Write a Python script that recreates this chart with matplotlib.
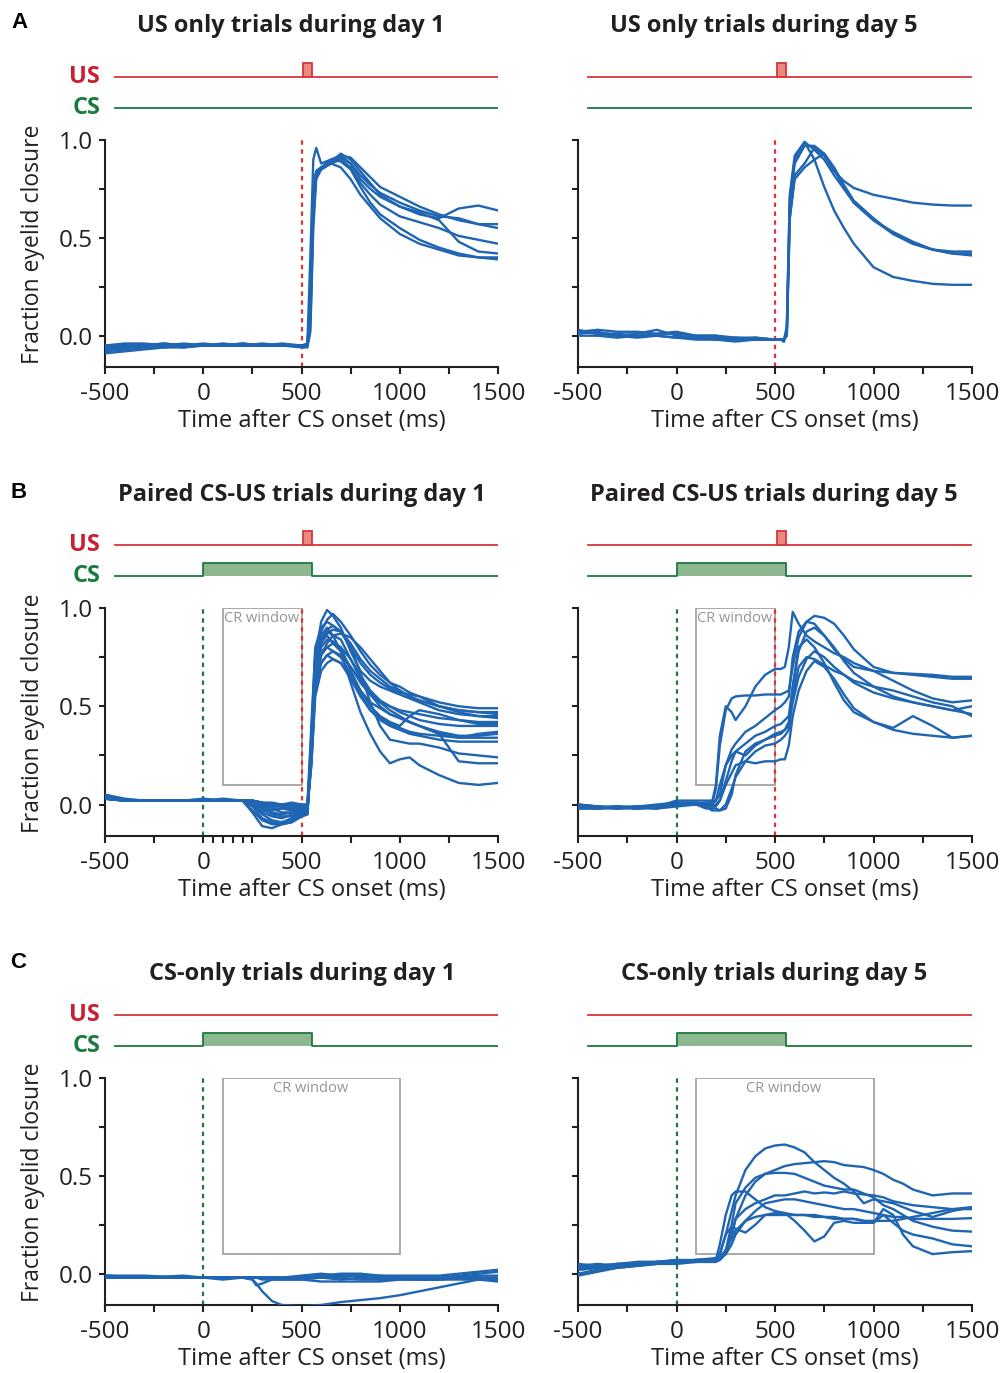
import matplotlib
matplotlib.use('Agg')
import matplotlib.pyplot as plt
from matplotlib.patches import Rectangle

plt.rcParams['font.family'] = ['Open Sans', 'DejaVu Sans']

# ---------------- data ----------------
titles = [["US only trials during day 1", "US only trials during day 5"],
          ["Paired CS-US trials during day 1", "Paired CS-US trials during day 5"],
          ["CS-only trials during day 1", "CS-only trials during day 5"]]
panel_letters = ["A", "B", "C"]
x_ticks = [-500, 0, 500, 1000, 1500]
x_minor = [-250, 250, 750, 1250]
y_ticks = [0.0, 0.5, 1.0]
y_tick_labels = ["0.0", "0.5", "1.0"]
y_minor = [0.25, 0.75]
xlabel = "Time after CS onset (ms)"
ylabel = "Fraction eyelid closure"

# stimulus timing (ms) per row: US pulse (on, off) or None; CS (on, off) or None
us_pulse = [(510, 555), (510, 555), None]
cs_pulse = [None, (0, 555), (0, 555)]
cr_window = [None, (100, 500, 0.1, 1.0), (100, 1000, 0.1, 1.0)]

# A left: US only day 1
t_a1 = [-500, -400, -300, -200, -100, 0, 100, 200, 300, 400, 500, 530, 545, 560, 575, 600,
        650, 700, 750, 800, 850, 900, 1000, 1100, 1200, 1300, 1400, 1500]
a1_traces = [
    [-0.05, -0.04, -0.04, -0.05, -0.04, -0.05, -0.05, -0.04, -0.05, -0.04, -0.05, -0.05, 0.2, 0.72, 0.84, 0.86, 0.89, 0.93, 0.9, 0.84, 0.78, 0.72, 0.66, 0.62, 0.6, 0.65, 0.665, 0.64],
    [-0.06, -0.05, -0.05, -0.04, -0.05, -0.05, -0.04, -0.05, -0.05, -0.05, -0.05, -0.05, 0.1, 0.65, 0.84, 0.86, 0.9, 0.92, 0.91, 0.86, 0.81, 0.76, 0.71, 0.66, 0.62, 0.59, 0.57, 0.57],
    [-0.07, -0.06, -0.05, -0.05, -0.05, -0.04, -0.05, -0.05, -0.04, -0.05, -0.05, -0.05, 0.15, 0.7, 0.83, 0.85, 0.88, 0.91, 0.88, 0.82, 0.77, 0.73, 0.68, 0.64, 0.61, 0.6, 0.57, 0.55],
    [-0.08, -0.07, -0.06, -0.06, -0.05, -0.05, -0.05, -0.05, -0.05, -0.05, -0.06, -0.06, 0.02, 0.55, 0.8, 0.85, 0.88, 0.9, 0.86, 0.78, 0.72, 0.67, 0.61, 0.58, 0.55, 0.51, 0.49, 0.47],
    [-0.09, -0.08, -0.07, -0.06, -0.06, -0.05, -0.05, -0.05, -0.05, -0.05, -0.05, -0.05, 0.05, 0.6, 0.82, 0.85, 0.89, 0.92, 0.88, 0.8, 0.75, 0.71, 0.66, 0.63, 0.59, 0.48, 0.43, 0.42],
    [-0.06, -0.06, -0.05, -0.05, -0.06, -0.05, -0.05, -0.05, -0.05, -0.05, -0.05, -0.05, 0.18, 0.75, 0.84, 0.86, 0.88, 0.86, 0.8, 0.72, 0.66, 0.6, 0.52, 0.47, 0.44, 0.41, 0.4, 0.39],
    [-0.05, -0.05, -0.05, -0.04, -0.05, -0.05, -0.05, -0.04, -0.05, -0.05, -0.05, -0.04, 0.4, 0.9, 0.96, 0.88, 0.9, 0.89, 0.85, 0.76, 0.68, 0.62, 0.55, 0.49, 0.45, 0.42, 0.4, 0.4],
]

# A right: US only day 5
t_a5 = [-500, -400, -300, -200, -100, 0, 100, 200, 300, 400, 500, 530, 545, 560, 575, 600,
        650, 700, 750, 800, 850, 900, 1000, 1100, 1200, 1300, 1400, 1500]
a5_traces = [
    [0.02, 0.03, 0.02, 0.02, 0.01, 0.01, 0.0, 0.0, -0.01, -0.01, -0.02, -0.02, -0.02, 0.0, 0.6, 0.82, 0.88, 0.96, 0.92, 0.84, 0.79, 0.755, 0.72, 0.7, 0.68, 0.67, 0.665, 0.665],
    [0.03, 0.01, 0.01, 0.0, 0.0, -0.01, -0.01, -0.01, -0.02, -0.01, -0.02, -0.02, -0.03, 0.05, 0.7, 0.9, 0.99, 0.95, 0.9, 0.82, 0.75, 0.68, 0.59, 0.53, 0.48, 0.44, 0.43, 0.43],
    [0.01, 0.02, 0.0, 0.01, 0.03, 0.0, -0.01, -0.02, -0.01, -0.02, -0.02, -0.02, -0.02, 0.0, 0.65, 0.88, 0.97, 0.97, 0.93, 0.85, 0.76, 0.68, 0.59, 0.52, 0.47, 0.44, 0.42, 0.42],
    [0.0, 0.0, -0.01, 0.0, 0.01, 0.02, 0.0, 0.0, -0.02, -0.02, -0.02, -0.02, -0.03, 0.02, 0.6, 0.8, 0.86, 0.9, 0.93, 0.86, 0.77, 0.69, 0.6, 0.52, 0.47, 0.44, 0.42, 0.41],
    [0.02, 0.01, 0.0, -0.01, 0.0, -0.01, -0.02, -0.02, -0.03, -0.02, -0.02, -0.02, -0.02, 0.03, 0.72, 0.92, 0.99, 0.9, 0.76, 0.64, 0.55, 0.47, 0.35, 0.3, 0.28, 0.265, 0.26, 0.26],
]

# B left: paired day 1
t_b1 = [-500, -400, -300, -200, -100, 0, 100, 200, 250, 300, 350, 400, 450, 500, 530, 550, 570,
        600, 630, 660, 700, 750, 800, 850, 900, 950, 1000, 1050, 1100, 1200, 1300, 1400, 1500]
b1_traces = [
    [0.04, 0.02, 0.02, 0.02, 0.02, 0.02, 0.02, 0.02, -0.04, -0.11, -0.12, -0.1, -0.09, -0.06, -0.05, 0.3, 0.75, 0.93, 0.99, 0.96, 0.9, 0.78, 0.68, 0.63, 0.6, 0.58, 0.56, 0.54, 0.52, 0.48, 0.46, 0.45, 0.45],
    [0.05, 0.03, 0.02, 0.02, 0.02, 0.02, 0.02, 0.02, 0.0, -0.04, -0.06, -0.07, -0.05, -0.04, -0.03, 0.25, 0.7, 0.88, 0.94, 0.97, 0.93, 0.86, 0.78, 0.71, 0.66, 0.62, 0.6, 0.57, 0.55, 0.52, 0.5, 0.49, 0.49],
    [0.03, 0.02, 0.02, 0.02, 0.02, 0.02, 0.02, 0.02, 0.01, -0.02, -0.03, -0.02, -0.03, -0.02, -0.02, 0.35, 0.8, 0.9, 0.93, 0.91, 0.88, 0.8, 0.72, 0.66, 0.62, 0.59, 0.57, 0.56, 0.55, 0.5, 0.48, 0.47, 0.47],
    [0.04, 0.02, 0.02, 0.02, 0.02, 0.03, 0.02, 0.02, 0.02, 0.0, -0.01, -0.01, 0.0, 0.0, 0.0, 0.4, 0.78, 0.86, 0.89, 0.91, 0.88, 0.82, 0.74, 0.68, 0.64, 0.6, 0.58, 0.55, 0.53, 0.5, 0.48, 0.47, 0.46],
    [0.03, 0.02, 0.02, 0.02, 0.02, 0.02, 0.02, 0.02, -0.03, -0.08, -0.1, -0.1, -0.08, -0.05, -0.04, 0.3, 0.72, 0.86, 0.9, 0.86, 0.78, 0.62, 0.47, 0.36, 0.27, 0.21, 0.23, 0.24, 0.2, 0.15, 0.11, 0.1, 0.11],
    [0.04, 0.02, 0.02, 0.02, 0.02, 0.02, 0.02, 0.02, 0.01, -0.01, -0.02, -0.02, -0.01, -0.01, -0.01, 0.28, 0.68, 0.82, 0.87, 0.89, 0.88, 0.8, 0.67, 0.52, 0.4, 0.33, 0.32, 0.31, 0.31, 0.29, 0.26, 0.25, 0.24],
    [0.03, 0.02, 0.02, 0.02, 0.02, 0.02, 0.02, 0.02, 0.02, 0.0, -0.02, -0.04, -0.04, -0.03, -0.03, 0.32, 0.74, 0.84, 0.88, 0.86, 0.84, 0.74, 0.64, 0.56, 0.5, 0.46, 0.44, 0.42, 0.4, 0.36, 0.22, 0.21, 0.21],
    [0.05, 0.02, 0.02, 0.02, 0.02, 0.02, 0.03, 0.02, 0.02, 0.01, 0.0, 0.0, 0.01, 0.0, 0.0, 0.25, 0.6, 0.76, 0.82, 0.86, 0.87, 0.85, 0.8, 0.74, 0.68, 0.62, 0.58, 0.55, 0.53, 0.5, 0.47, 0.45, 0.44],
    [0.03, 0.02, 0.02, 0.02, 0.02, 0.02, 0.02, 0.02, 0.0, -0.05, -0.08, -0.09, -0.07, -0.04, -0.04, 0.3, 0.7, 0.83, 0.86, 0.82, 0.78, 0.7, 0.62, 0.56, 0.52, 0.5, 0.48, 0.47, 0.46, 0.44, 0.43, 0.42, 0.42],
    [0.04, 0.02, 0.02, 0.02, 0.02, 0.02, 0.02, 0.02, 0.01, -0.02, -0.05, -0.06, -0.06, -0.05, -0.04, 0.28, 0.68, 0.8, 0.84, 0.83, 0.8, 0.68, 0.58, 0.5, 0.45, 0.42, 0.4, 0.45, 0.48, 0.46, 0.43, 0.41, 0.41],
    [0.03, 0.02, 0.02, 0.02, 0.02, 0.02, 0.02, 0.02, 0.02, 0.01, 0.0, -0.01, -0.02, -0.03, -0.02, 0.22, 0.62, 0.76, 0.8, 0.82, 0.8, 0.74, 0.66, 0.58, 0.53, 0.5, 0.47, 0.45, 0.43, 0.41, 0.4, 0.4, 0.4],
    [0.05, 0.02, 0.02, 0.02, 0.02, 0.02, 0.02, 0.02, 0.0, -0.03, -0.04, -0.05, -0.04, -0.03, -0.03, 0.3, 0.68, 0.78, 0.8, 0.78, 0.75, 0.66, 0.58, 0.52, 0.49, 0.46, 0.44, 0.42, 0.4, 0.36, 0.34, 0.36, 0.37],
    [0.04, 0.02, 0.02, 0.02, 0.02, 0.02, 0.02, 0.02, 0.02, 0.0, -0.01, 0.0, -0.01, -0.02, -0.02, 0.2, 0.58, 0.72, 0.76, 0.78, 0.76, 0.7, 0.63, 0.57, 0.52, 0.48, 0.45, 0.42, 0.4, 0.37, 0.35, 0.35, 0.36],
    [0.03, 0.02, 0.02, 0.02, 0.02, 0.02, 0.02, 0.02, -0.01, -0.07, -0.09, -0.1, -0.09, -0.06, -0.05, 0.25, 0.62, 0.72, 0.76, 0.74, 0.72, 0.64, 0.55, 0.48, 0.44, 0.41, 0.39, 0.37, 0.36, 0.35, 0.34, 0.34, 0.34],
    [0.04, 0.02, 0.02, 0.02, 0.02, 0.02, 0.02, 0.02, 0.02, 0.01, 0.01, 0.0, -0.01, -0.01, -0.01, 0.2, 0.55, 0.68, 0.72, 0.74, 0.72, 0.66, 0.56, 0.48, 0.43, 0.4, 0.38, 0.36, 0.35, 0.33, 0.32, 0.32, 0.32],
]

# B right: paired day 5
t_b5 = [-500, -400, -300, -200, -100, 0, 100, 150, 180, 200, 220, 250, 280, 300, 350, 400, 450, 500,
        530, 550, 570, 590, 620, 660, 700, 750, 800, 850, 900, 1000, 1100, 1200, 1300, 1400, 1500]
b5_traces = [
    [-0.01, -0.02, -0.01, -0.02, -0.01, 0.0, 0.0, 0.01, 0.01, 0.1, 0.35, 0.5, 0.47, 0.43, 0.5, 0.6, 0.66, 0.69, 0.69, 0.7, 0.8, 0.98, 0.92, 0.86, 0.83, 0.8, 0.77, 0.75, 0.72, 0.68, 0.63, 0.58, 0.54, 0.52, 0.53],
    [0.0, -0.01, -0.02, -0.01, 0.0, 0.01, 0.01, 0.0, 0.0, 0.08, 0.3, 0.48, 0.54, 0.55, 0.555, 0.555, 0.56, 0.56, 0.56, 0.57, 0.58, 0.7, 0.85, 0.93, 0.96, 0.95, 0.92, 0.86, 0.79, 0.7, 0.67, 0.665, 0.66, 0.65, 0.65],
    [-0.01, -0.01, -0.02, -0.01, -0.01, 0.02, 0.02, 0.02, 0.02, 0.02, 0.05, 0.2, 0.28, 0.31, 0.37, 0.4, 0.44, 0.48, 0.5, 0.52, 0.55, 0.75, 0.88, 0.93, 0.92, 0.86, 0.79, 0.74, 0.7, 0.68, 0.67, 0.66, 0.65, 0.64, 0.64],
    [-0.02, -0.02, -0.01, -0.02, -0.02, 0.0, 0.01, 0.0, -0.01, -0.01, 0.02, 0.12, 0.22, 0.27, 0.31, 0.35, 0.37, 0.4, 0.41, 0.43, 0.45, 0.6, 0.78, 0.88, 0.9, 0.86, 0.8, 0.73, 0.67, 0.6, 0.55, 0.52, 0.5, 0.48, 0.46],
    [0.0, -0.01, -0.01, -0.02, -0.01, 0.01, 0.0, 0.0, 0.0, 0.02, 0.1, 0.2, 0.25, 0.27, 0.25, 0.3, 0.33, 0.35, 0.36, 0.38, 0.4, 0.52, 0.65, 0.74, 0.78, 0.75, 0.7, 0.66, 0.62, 0.57, 0.54, 0.52, 0.5, 0.48, 0.5],
    [-0.01, -0.02, -0.01, -0.01, -0.02, 0.0, 0.0, -0.02, -0.02, -0.02, -0.03, -0.02, 0.05, 0.15, 0.27, 0.31, 0.33, 0.36, 0.37, 0.38, 0.42, 0.6, 0.8, 0.84, 0.8, 0.72, 0.62, 0.53, 0.47, 0.42, 0.38, 0.36, 0.35, 0.34, 0.35],
    [-0.02, -0.02, -0.02, -0.01, -0.02, -0.01, 0.0, -0.01, -0.01, 0.0, 0.02, 0.1, 0.16, 0.2, 0.22, 0.21, 0.22, 0.22, 0.23, 0.23, 0.3, 0.45, 0.58, 0.68, 0.73, 0.7, 0.64, 0.56, 0.49, 0.42, 0.39, 0.45, 0.4, 0.34, 0.35],
    [0.0, -0.01, -0.02, -0.02, -0.01, 0.0, 0.0, -0.01, -0.03, -0.03, -0.03, 0.0, 0.08, 0.14, 0.22, 0.27, 0.3, 0.31, 0.33, 0.35, 0.38, 0.55, 0.7, 0.75, 0.74, 0.71, 0.68, 0.66, 0.63, 0.6, 0.58, 0.55, 0.52, 0.5, 0.45],
]

# C left: CS only day 1
t_c1 = [-500, -300, -100, 0, 100, 200, 250, 270, 300, 350, 400, 500, 600, 700, 800, 900, 1000,
        1100, 1200, 1300, 1400, 1500]
c1_traces = [
    [-0.02, -0.02, -0.02, -0.02, -0.02, -0.02, -0.03, -0.05, -0.09, -0.14, -0.16, -0.165, -0.16, -0.145, -0.135, -0.125, -0.11, -0.09, -0.07, -0.05, -0.03, -0.02],
    [-0.01, -0.02, -0.02, -0.02, -0.02, -0.02, -0.03, -0.06, -0.05, -0.03, -0.03, -0.03, -0.02, -0.03, -0.02, -0.03, -0.03, -0.03, -0.03, -0.02, -0.03, -0.04],
    [-0.02, -0.02, -0.02, -0.02, -0.02, -0.02, -0.02, -0.02, -0.02, -0.02, -0.02, -0.01, 0.0, -0.01, -0.01, -0.01, -0.01, -0.01, -0.01, 0.0, 0.01, 0.02],
    [-0.01, -0.02, -0.01, -0.02, -0.02, -0.02, -0.02, -0.02, -0.02, -0.02, -0.02, -0.02, -0.01, 0.0, 0.0, -0.01, -0.02, -0.02, -0.02, -0.01, 0.0, 0.01],
    [-0.02, -0.02, -0.02, -0.02, -0.03, -0.02, -0.02, -0.02, -0.03, -0.03, -0.03, -0.03, -0.04, -0.04, -0.04, -0.04, -0.03, -0.03, -0.03, -0.03, -0.03, -0.03],
    [-0.01, -0.01, -0.02, -0.02, -0.02, -0.02, -0.02, -0.02, -0.02, -0.02, -0.02, -0.02, -0.02, -0.02, -0.03, -0.03, -0.02, -0.02, -0.02, -0.02, -0.02, -0.02],
    [-0.02, -0.02, -0.02, -0.02, -0.02, -0.02, -0.02, -0.02, -0.02, -0.02, -0.02, -0.02, -0.02, -0.01, -0.01, -0.02, -0.02, -0.03, -0.03, -0.02, -0.01, -0.01],
]

# C right: CS only day 5
t_c5 = [-500, -400, -300, -200, -100, 0, 100, 200, 220, 250, 280, 300, 350, 400, 450, 500, 550,
        600, 650, 700, 750, 800, 850, 900, 950, 1000, 1050, 1100, 1150, 1200, 1300, 1400, 1500]
c5_traces = [
    [0.05, 0.04, 0.05, 0.06, 0.06, 0.07, 0.07, 0.08, 0.1, 0.2, 0.32, 0.4, 0.53, 0.6, 0.64, 0.655, 0.66, 0.645, 0.62, 0.57, 0.53, 0.49, 0.46, 0.42, 0.36, 0.38, 0.37, 0.36, 0.34, 0.32, 0.29, 0.32, 0.34],
    [0.03, 0.04, 0.05, 0.05, 0.06, 0.06, 0.07, 0.07, 0.08, 0.12, 0.2, 0.28, 0.4, 0.47, 0.51, 0.53, 0.55, 0.56, 0.565, 0.57, 0.575, 0.57, 0.555, 0.55, 0.545, 0.53, 0.51, 0.48, 0.46, 0.43, 0.4, 0.41, 0.41],
    [0.02, 0.03, 0.04, 0.05, 0.05, 0.06, 0.07, 0.07, 0.08, 0.12, 0.25, 0.36, 0.44, 0.49, 0.51, 0.515, 0.515, 0.51, 0.49, 0.47, 0.45, 0.44, 0.43, 0.43, 0.41, 0.39, 0.35, 0.33, 0.3, 0.27, 0.24, 0.22, 0.215],
    [0.0, 0.02, 0.03, 0.04, 0.05, 0.05, 0.06, 0.06, 0.07, 0.1, 0.2, 0.28, 0.33, 0.36, 0.38, 0.4, 0.4, 0.41, 0.42, 0.41, 0.415, 0.41, 0.42, 0.41, 0.405, 0.4, 0.39, 0.37, 0.36, 0.35, 0.34, 0.33, 0.34],
    [0.04, 0.05, 0.04, 0.06, 0.06, 0.06, 0.07, 0.07, 0.15, 0.3, 0.4, 0.42, 0.42, 0.38, 0.34, 0.32, 0.31, 0.3, 0.3, 0.29, 0.29, 0.28, 0.28, 0.28, 0.27, 0.26, 0.33, 0.3, 0.2, 0.14, 0.1, 0.11, 0.115],
    [0.02, 0.03, 0.05, 0.05, 0.06, 0.07, 0.06, 0.07, 0.1, 0.2, 0.24, 0.23, 0.21, 0.25, 0.3, 0.31, 0.31, 0.27, 0.22, 0.165, 0.19, 0.26, 0.27, 0.26, 0.26, 0.26, 0.3, 0.26, 0.22, 0.2, 0.18, 0.15, 0.14],
    [-0.01, 0.01, 0.03, 0.04, 0.05, 0.06, 0.06, 0.07, 0.08, 0.12, 0.18, 0.22, 0.27, 0.29, 0.3, 0.3, 0.3, 0.3, 0.3, 0.3, 0.29, 0.29, 0.28, 0.28, 0.27, 0.27, 0.27, 0.27, 0.28, 0.29, 0.31, 0.33, 0.33],
    [0.03, 0.04, 0.04, 0.05, 0.06, 0.06, 0.07, 0.07, 0.08, 0.1, 0.15, 0.2, 0.27, 0.32, 0.36, 0.37, 0.38, 0.38, 0.37, 0.36, 0.35, 0.34, 0.33, 0.33, 0.32, 0.31, 0.3, 0.29, 0.29, 0.28, 0.28, 0.28, 0.284],
]

panel_data = [[(t_a1, a1_traces), (t_a5, a5_traces)],
              [(t_b1, b1_traces), (t_b5, b5_traces)],
              [(t_c1, c1_traces), (t_c5, c5_traces)]]

# ---------------- styling / layout ----------------
W, H = 1002, 1373
fig = plt.figure(figsize=(W / 100, H / 100), dpi=100)

BLUE = '#1f65b2'
RED = '#d8353c'
RED_FILL = '#e88a7d'
GREEN = '#1b7a3d'
GREEN_FILL = '#8db791'
SPINE = '#231f20'
GRAY = '#a3a3a3'
TEXT_GRAY = '#959595'

col_x = [(105, 498), (578, 972)]
row_y = [(140, 367), (608, 836), (1078, 1305)]
title_pos = [[(291, 26), (764, 26)], [(302, 495), (774, 495)], [(302, 974), (774, 974)]]
letter_pos = [(11, 28), (10, 498), (10, 968)]
red_line_rows = [0, 1]
green_line_rows = [1, 2]


def rect(x0, x1, ytop, ybot):
    return [x0 / W, 1 - ybot / H, (x1 - x0) / W, (ybot - ytop) / H]


for r in range(3):
    ytop, ybot = row_y[r]
    fig.text(letter_pos[r][0] / W, 1 - letter_pos[r][1] / H, panel_letters[r],
             fontsize=16, fontweight='bold', family='Liberation Sans', ha='left', va='baseline')
    for c in range(2):
        x0, x1 = col_x[c]
        ax = fig.add_axes(rect(x0, x1, ytop, ybot))
        t, traces = panel_data[r][c]
        for tr in traces:
            ax.plot(t, tr, color=BLUE, lw=1.7, solid_joinstyle='round', zorder=3)
        ax.set_xlim(-500, 1500)
        ax.set_ylim(-0.16, 1.0)
        for s in ['top', 'right']:
            ax.spines[s].set_visible(False)
        for s in ['left', 'bottom']:
            ax.spines[s].set_linewidth(1.5)
            ax.spines[s].set_color(SPINE)
        ax.set_xticks(x_ticks)
        ax.set_xticklabels([str(v) for v in x_ticks])
        minors = list(x_minor)
        if r == 1 and c == 0:
            minors = minors + [50, 100, 150, 200]
        ax.set_xticks(minors, minor=True)
        ax.set_yticks(y_ticks)
        ax.set_yticks(y_minor, minor=True)
        if c == 0:
            ax.set_yticklabels(y_tick_labels)
        else:
            ax.set_yticklabels([])
        ax.tick_params(axis='x', which='both', direction='out', length=5, width=1.5,
                       color=SPINE, labelsize=17.5, pad=5.5, labelcolor='#231f20')
        ax.tick_params(axis='y', which='both', direction='out', length=4, width=1.5,
                       color=SPINE, labelsize=17.5, pad=5, labelcolor='#231f20')
        if r in red_line_rows:
            ax.axvline(500, color=RED, lw=1.6, ls=(0, (2, 2)), zorder=2)
        if r in green_line_rows:
            ax.axvline(0, color=GREEN, lw=1.6, ls=(0, (2, 2)), zorder=2)
        if cr_window[r] is not None:
            a, b, lo, hi = cr_window[r]
            ax.add_patch(Rectangle((a, lo), b - a, hi - lo, fill=False, ec=GRAY, lw=1.3, zorder=1))
            ax.text((a + b) / 2 - 5, hi - 0.055, "CR window", color=TEXT_GRAY, fontsize=10.5,
                    ha='center', va='center', zorder=1)

        # x label
        xl_cx = (x0 + x1) / 2 + 10
        fig.text(xl_cx / W, 1 - (ybot + 54) / H, xlabel, fontsize=17, ha='center', va='center',
                 color='#231f20')
        # title
        tx, ty = title_pos[r][c]
        fig.text(tx / W, 1 - ty / H, titles[r][c], fontsize=17, fontweight='bold',
                 ha='center', va='center', color='#231f20')

        # stimulus axis
        sax = fig.add_axes(rect(x0, x1, ytop - 80, ytop - 20))
        sax.set_xlim(-500, 1500)
        sax.set_ylim(0, 60)
        sax.axis('off')
        us_y, cs_y = 43, 12
        sax.plot([-450, 1500], [us_y, us_y], color=RED, lw=1.3, zorder=2)
        if us_pulse[r] is not None:
            on, off = us_pulse[r]
            sax.add_patch(Rectangle((on, us_y), off - on, 14, fc=RED_FILL, ec=RED, lw=1.3, zorder=3))
        if cs_pulse[r] is not None:
            on, off = cs_pulse[r]
            sax.plot([-450, on, on, off, off, 1500], [cs_y, cs_y, cs_y + 13, cs_y + 13, cs_y, cs_y],
                     color=GREEN, lw=1.3, zorder=3)
            sax.add_patch(Rectangle((on, cs_y), off - on, 13, fc=GREEN_FILL, ec='none', zorder=2))
        else:
            sax.plot([-450, 1500], [cs_y, cs_y], color=GREEN, lw=1.3, zorder=2)
        if c == 0:
            fig.text(100 / W, 1 - (ytop - 63) / H, "US", color='#c9202f', fontsize=17,
                     fontweight='bold', ha='right', va='center')
            fig.text(100 / W, 1 - (ytop - 32) / H, "CS", color=GREEN, fontsize=17,
                     fontweight='bold', ha='right', va='center')
            fig.text(33 / W, 1 - ((ytop + ybot) / 2 - 9) / H, ylabel, fontsize=16.5,
                     rotation=90, ha='center', va='center', color='#231f20')

fig.savefig('out.png', dpi=100)
